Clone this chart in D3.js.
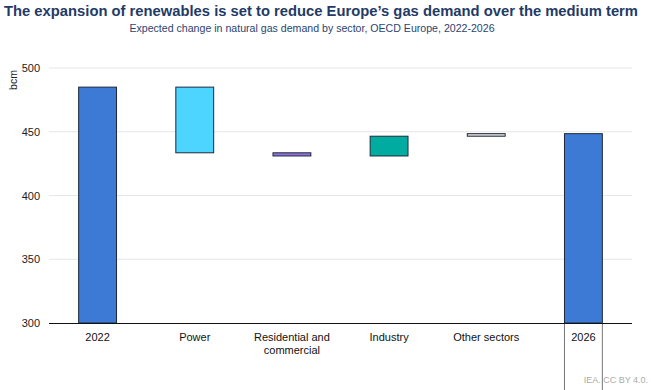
<!DOCTYPE html>
<html><head><meta charset="utf-8">
<script src="https://cdn.jsdelivr.net/npm/d3@7"></script>
<style>body{margin:0;background:#fff}svg{display:block;font-family:"Liberation Sans",Arial,sans-serif}</style>
</head><body><svg id="c" width="652" height="390"></svg>
<script>
const categories = ["2022","Power","Residential and\ncommercial","Industry","Other sectors","2026"];
const changes = [485, -51.5, -2.5, 15.5, 2, null]; // first = start total, last = end total
const colors = ["#3d7ad6","#4dd4ff","#9370db","#00ab9f","#dcdcdc","#3d7ad6"];
const yTicks = [300,350,400,450,500];

const svg = d3.select("#c");
const L=49,R=632,T=68,B=323;
const x = d3.scaleBand().domain(categories).range([L,R]).paddingInner(0.6).paddingOuter(0.3);
const y = d3.scaleLinear().domain([300,500]).range([B,T]);

let run=0; const bars=[];
categories.forEach((c,i)=>{
  if(i===0){run=changes[0];bars.push({c,y0:300,y1:run,col:colors[i]});}
  else if(i===categories.length-1){bars.push({c,y0:300,y1:run,col:colors[i]});}
  else {const s=run; run+=changes[i]; bars.push({c,y0:s,y1:run,col:colors[i]});}
});

svg.append("text").attr("x",4).attr("y",16).attr("font-size",14.6).attr("font-weight","bold").attr("fill","#1f3b66")
  .attr("textLength",634).attr("lengthAdjust","spacingAndGlyphs")
  .text("The expansion of renewables is set to reduce Europe’s gas demand over the medium term");
svg.append("text").attr("x",312).attr("y",32).attr("text-anchor","middle").attr("font-size",10.6).attr("fill","#2b4470")
  .text("Expected change in natural gas demand by sector, OECD Europe, 2022-2026");

svg.append("g").selectAll("line").data(yTicks.filter(d=>d>300)).join("line")
  .attr("x1",L).attr("x2",R).attr("y1",d=>y(d)).attr("y2",d=>y(d)).attr("stroke","#e6e6e6").attr("stroke-width",1);

const ya = svg.append("g").attr("transform",`translate(${L},0)`).call(d3.axisLeft(y).tickValues(yTicks).tickSize(0).tickPadding(9));
ya.select(".domain").remove();
ya.selectAll("text").attr("font-size",11).attr("fill","#222").attr("font-family","Liberation Sans, Arial, sans-serif");

svg.append("text").attr("transform","translate(17,80) rotate(-90)").attr("text-anchor","middle").attr("font-size",10.5).attr("fill","#222").text("bcm");

const last = bars[bars.length-1];
[x(last.c)+0.5, x(last.c)+x.bandwidth()-0.5].forEach(xx=>{
  svg.append("line").attr("x1",xx).attr("x2",xx).attr("y1",B).attr("y2",390).attr("stroke","#777").attr("stroke-width",1);
});

svg.append("g").selectAll("rect").data(bars).join("rect")
  .attr("x",d=>x(d.c)+0.5).attr("width",x.bandwidth()-1)
  .attr("y",d=>y(Math.max(d.y0,d.y1))).attr("height",d=>Math.abs(y(d.y0)-y(d.y1)))
  .attr("fill",d=>d.col).attr("stroke","#1e2a3a").attr("stroke-width",1);

svg.append("line").attr("x1",L).attr("x2",R).attr("y1",B+0.5).attr("y2",B+0.5).attr("stroke","#111").attr("stroke-width",1);

const xa = svg.append("g");
categories.forEach(c=>{
  const t = xa.append("text").attr("x",x(c)+x.bandwidth()/2).attr("y",341).attr("text-anchor","middle").attr("font-size",11).attr("fill","#111");
  c.split("\n").forEach((s,i)=>t.append("tspan").attr("x",x(c)+x.bandwidth()/2).attr("dy",i?13:0).text(s));
});

svg.append("text").attr("x",648).attr("y",383).attr("text-anchor","end").attr("font-size",9).attr("fill","#aaa").text("IEA. CC BY 4.0.");
</script></body></html>
